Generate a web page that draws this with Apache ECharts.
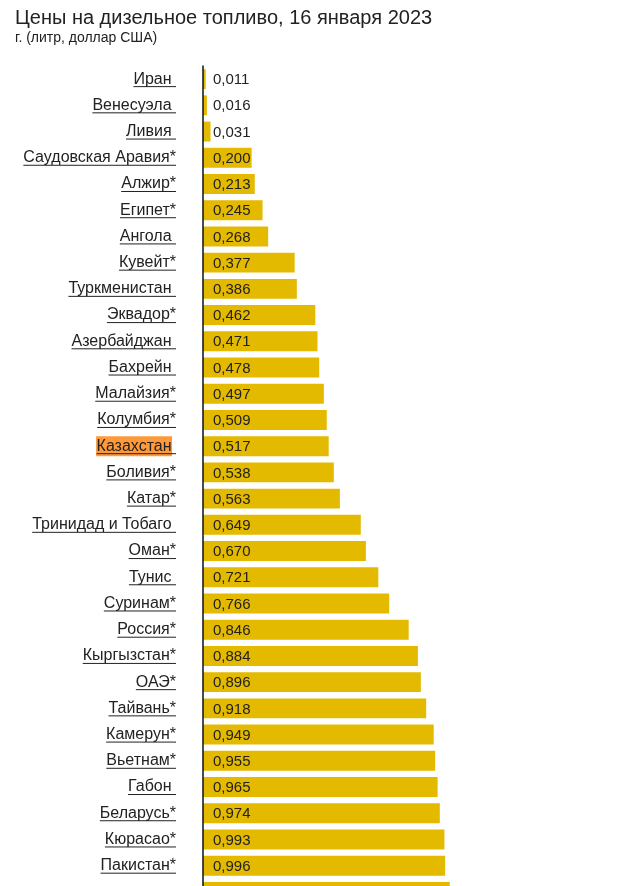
<!DOCTYPE html>
<html>
<head>
<meta charset="utf-8">
<script src="https://cdn.jsdelivr.net/npm/echarts@6/dist/echarts.min.js"></script>
<style>
  html, body { margin: 0; padding: 0; background: #fff; }
  #chart { width: 637px; height: 886px; }
</style>
</head>
<body>
<div id="chart"></div>
<script>
const categories = [
  'Иран ', 'Венесуэла ', 'Ливия ', 'Саудовская Аравия*', 'Алжир*', 'Египет*', 'Ангола ',
  'Кувейт*', 'Туркменистан ', 'Эквадор*', 'Азербайджан ', 'Бахрейн ', 'Малайзия*',
  'Колумбия*', 'Казахстан ', 'Боливия*', 'Катар*', 'Тринидад и Тобаго ', 'Оман*',
  'Тунис ', 'Суринам*', 'Россия*', 'Кыргызстан*', 'ОАЭ*', 'Тайвань*', 'Камерун*',
  'Вьетнам*', 'Габон ', 'Беларусь*', 'Кюрасао*', 'Пакистан*', ''
];
const prices = [
  0.011, 0.016, 0.031, 0.200, 0.213, 0.245, 0.268,
  0.377, 0.386, 0.462, 0.471, 0.478, 0.497,
  0.509, 0.517, 0.538, 0.563, 0.649, 0.670,
  0.721, 0.766, 0.846, 0.884, 0.896, 0.918, 0.949,
  0.955, 0.965, 0.974, 0.993, 0.996, 1.015
];
const highlighted = 'Казахстан ';

const CAT_FONT_SIZE = 16;
const FONT = CAT_FONT_SIZE + 'px "Liberation Sans", Arial, sans-serif';
const LABEL_MARGIN = 27;
const measureCtx = document.createElement('canvas').getContext('2d');
measureCtx.font = FONT;
function textWidth(t) { return measureCtx.measureText(t).width; }

const chart = echarts.init(document.getElementById('chart'));
chart.setOption({
  animation: false,
  backgroundColor: '#fff',
  title: {
    text: 'Цены на дизельное топливо, 16 января 2023',
    subtext: 'г. (литр, доллар США)',
    left: 10,
    top: 3,
    itemGap: 3,
    textStyle: { fontFamily: 'Liberation Sans', fontSize: 20, fontWeight: 'normal', color: '#222' },
    subtextStyle: { fontFamily: 'Liberation Sans', fontSize: 14, color: '#222' }
  },
  grid: { left: 203, top: 66, width: 389, height: 839, containLabel: false, outerBoundsMode: 'none' },
  xAxis: { type: 'value', min: 0, max: 1.6, show: false },
  yAxis: {
    type: 'category',
    data: categories,
    inverse: true,
    z: 5,
    axisLine: { show: true, lineStyle: { color: '#111', width: 1.5 } },
    axisTick: { show: false },
    axisLabel: {
      margin: LABEL_MARGIN,
      fontFamily: 'Liberation Sans',
      fontSize: CAT_FONT_SIZE,
      color: '#222'
    }
  },
  series: [
    {
      type: 'custom',
      z: 1,
      clip: false,
      silent: true,
      data: categories.map((c, i) => [0, i]),
      encode: { x: 0, y: 1 },
      renderItem: function (params, api) {
        const idx = api.value(1);
        const name = categories[idx];
        if (!name) return null;
        const p = api.coord([0, idx]);
        const xr = p[0] - LABEL_MARGIN;
        const w = textWidth(name);
        const children = [];
        if (name === highlighted) {
          const wt = textWidth(name.trimEnd());
          children.push({
            type: 'rect',
            shape: { x: xr - w - 0.5, y: p[1] - 10, width: wt + 1, height: 20 },
            style: { fill: '#ff9a3c' }
          });
        }
        children.push({
          type: 'line',
          shape: { x1: xr - w, y1: p[1] + 7.5, x2: xr, y2: p[1] + 7.5 },
          style: { stroke: '#222', lineWidth: 1 }
        });
        return { type: 'group', children: children };
      }
    },
    {
      type: 'bar',
      data: prices,
      barCategoryGap: '24%',
      itemStyle: { color: '#e3ba00' },
      label: {
        show: true,
        position: 'insideLeft',
        distance: 10,
        offset: [0, 1],
        fontFamily: 'Liberation Sans',
        fontSize: 15,
        color: '#222',
        formatter: p => p.value.toFixed(3).replace('.', ',')
      }
    }
  ]
});
</script>
</body>
</html>
